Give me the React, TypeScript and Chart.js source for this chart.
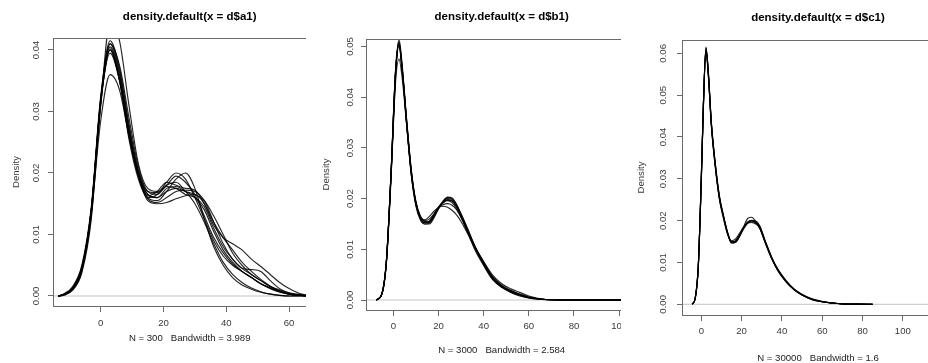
import React, { useEffect, useRef } from "react";
import { Chart, registerables } from "chart.js";

Chart.register(...registerables);

const FONT = "'Liberation Sans', Arial, Helvetica, sans-serif";
const CURVE_COLOR = "rgba(0,0,0,0.85)";
const ZERO_COLOR = "#c4c4c4";
const AXIS_COLOR = "#6a6a6a";
const TEXT_COLOR = "#3a3a3a";

// ---------------- Panel 1: d$a1 ----------------
const A_TITLE = "density.default(x = d$a1)";
const A_XLAB = "N = 300   Bandwidth = 3.989";
const A_XTICKS = [0, 20, 40, 60];
const A_YTICKS = [0, 0.01, 0.02, 0.03, 0.04];
const A_X = [-13.5, -12, -9, -6, -3, 0, 3, 6, 9, 12, 15, 18, 21, 24, 27, 30, 33, 36, 39, 42, 45, 48, 51, 54, 57, 60, 64, 70];
const A1 = [0, 0.0002, 0.0012, 0.0045, 0.014, 0.032, 0.0405, 0.036, 0.027, 0.020, 0.0165, 0.016, 0.0175, 0.0178, 0.017, 0.016, 0.014, 0.0105, 0.0075, 0.0055, 0.004, 0.003, 0.002, 0.0013, 0.0008, 0.0004, 0.00015, 0];
const A2 = [0, 0.0002, 0.0011, 0.0042, 0.0135, 0.0315, 0.040, 0.035, 0.0255, 0.019, 0.016, 0.0165, 0.0185, 0.020, 0.019, 0.016, 0.0125, 0.009, 0.0065, 0.005, 0.004, 0.003, 0.002, 0.0012, 0.0006, 0.0003, 0.0001, 0];
const A3 = [0, 0.0001, 0.0009, 0.0038, 0.0125, 0.031, 0.0445, 0.0415, 0.031, 0.0215, 0.0175, 0.017, 0.018, 0.0195, 0.0185, 0.0165, 0.013, 0.0095, 0.007, 0.0052, 0.004, 0.003, 0.002, 0.0013, 0.0007, 0.0003, 0.0001, 0];
const A4 = [0, 0.0002, 0.0013, 0.0048, 0.0135, 0.0285, 0.036, 0.0335, 0.026, 0.0195, 0.0155, 0.015, 0.0152, 0.0158, 0.0163, 0.0165, 0.015, 0.012, 0.0095, 0.0075, 0.0055, 0.004, 0.0027, 0.0016, 0.0008, 0.0003, 0.0001, 0];
const A5 = [0, 0.0003, 0.0015, 0.005, 0.0145, 0.0325, 0.041, 0.0365, 0.0275, 0.020, 0.016, 0.0155, 0.017, 0.019, 0.020, 0.0175, 0.0125, 0.008, 0.005, 0.003, 0.0018, 0.0011, 0.0006, 0.0003, 0.0001, 0, 0, 0];
const A6 = [0, 0.0002, 0.0012, 0.0044, 0.0138, 0.0315, 0.040, 0.035, 0.026, 0.0195, 0.0163, 0.017, 0.0185, 0.018, 0.0175, 0.0172, 0.015, 0.0115, 0.0095, 0.0085, 0.0075, 0.006, 0.0048, 0.0035, 0.0022, 0.0012, 0.0003, 0];
const A7 = [0, 0.0002, 0.0013, 0.0046, 0.014, 0.032, 0.0415, 0.037, 0.028, 0.0205, 0.017, 0.0168, 0.0178, 0.0175, 0.0165, 0.016, 0.0145, 0.011, 0.008, 0.006, 0.0045, 0.0043, 0.004, 0.0025, 0.0012, 0.0005, 0.0001, 0];
const A8 = [0, 0.0002, 0.0012, 0.0045, 0.014, 0.032, 0.0402, 0.0355, 0.0265, 0.0195, 0.0158, 0.0152, 0.016, 0.017, 0.0172, 0.017, 0.0155, 0.012, 0.0085, 0.006, 0.0045, 0.0035, 0.0025, 0.0015, 0.0008, 0.0003, 0.0001, 0];
const A9 = [0, 0.0001, 0.001, 0.004, 0.013, 0.031, 0.041, 0.0375, 0.029, 0.021, 0.017, 0.0165, 0.018, 0.0185, 0.017, 0.015, 0.012, 0.0085, 0.0055, 0.0035, 0.0022, 0.0013, 0.0007, 0.0003, 0.0001, 0, 0, 0];
const A10 = [0, 0.0002, 0.0012, 0.0045, 0.014, 0.0315, 0.0395, 0.035, 0.0265, 0.020, 0.0165, 0.016, 0.017, 0.0175, 0.017, 0.0165, 0.0155, 0.013, 0.010, 0.007, 0.005, 0.0035, 0.0025, 0.0016, 0.001, 0.0005, 0.0002, 0];

// ---------------- Panel 2: d$b1 ----------------
const B_TITLE = "density.default(x = d$b1)";
const B_XLAB = "N = 3000   Bandwidth = 2.584";
const B_XTICKS = [0, 20, 40, 60, 80, 100];
const B_YTICKS = [0, 0.01, 0.02, 0.03, 0.04, 0.05];
const B_X = [-7.5, -5, -3, -1, 1, 2.5, 4, 6, 8, 10, 12, 14, 16, 18, 20, 22, 24, 26, 28, 30, 33, 36, 40, 44, 48, 52, 56, 60, 65, 70, 80, 105];
const B1 = [0, 0.0013, 0.008, 0.025, 0.045, 0.0505, 0.045, 0.0345, 0.025, 0.019, 0.0162, 0.0152, 0.0155, 0.0168, 0.0183, 0.0193, 0.0198, 0.0195, 0.0183, 0.0165, 0.0135, 0.0105, 0.0072, 0.0043, 0.0027, 0.0017, 0.001, 0.0005, 0.0002, 0.00005, 0, 0];
const B2 = [0, 0.0012, 0.0075, 0.024, 0.044, 0.0515, 0.046, 0.035, 0.0255, 0.0195, 0.0165, 0.0155, 0.0153, 0.0165, 0.018, 0.0195, 0.0202, 0.020, 0.0188, 0.0168, 0.0135, 0.0103, 0.007, 0.0042, 0.0026, 0.0016, 0.0009, 0.0004, 0.00015, 0.00005, 0, 0];
const B3 = [0, 0.0014, 0.0082, 0.0245, 0.043, 0.0475, 0.0435, 0.034, 0.025, 0.0192, 0.0163, 0.0158, 0.0165, 0.0175, 0.0182, 0.0185, 0.0183, 0.0177, 0.0168, 0.0155, 0.013, 0.0105, 0.0075, 0.0046, 0.0029, 0.0019, 0.0011, 0.0006, 0.0002, 0.00005, 0, 0];
const B4 = [0, 0.0013, 0.008, 0.025, 0.0455, 0.051, 0.0455, 0.0345, 0.0245, 0.0185, 0.0158, 0.015, 0.0152, 0.0165, 0.018, 0.0193, 0.020, 0.0198, 0.0185, 0.0165, 0.0132, 0.010, 0.0068, 0.004, 0.0025, 0.0018, 0.0012, 0.0006, 0.0002, 0.00005, 0, 0];
const B5 = [0, 0.0013, 0.0078, 0.0245, 0.0445, 0.050, 0.045, 0.035, 0.0255, 0.0193, 0.0165, 0.0156, 0.016, 0.017, 0.0182, 0.0188, 0.019, 0.0187, 0.0178, 0.0163, 0.0136, 0.0107, 0.0074, 0.0045, 0.0028, 0.0018, 0.0011, 0.0005, 0.0002, 0.00005, 0, 0];
const B6 = [0, 0.0012, 0.0079, 0.025, 0.045, 0.0508, 0.0452, 0.0343, 0.0248, 0.0188, 0.016, 0.015, 0.015, 0.0162, 0.018, 0.0194, 0.0203, 0.0201, 0.0189, 0.017, 0.014, 0.0108, 0.0071, 0.0041, 0.0025, 0.0015, 0.0008, 0.0004, 0.00015, 0.00005, 0, 0];
const B7 = [0, 0.0013, 0.0081, 0.0252, 0.0452, 0.0503, 0.0448, 0.034, 0.0246, 0.0189, 0.0161, 0.0153, 0.0156, 0.0169, 0.0184, 0.0193, 0.0196, 0.0192, 0.018, 0.0163, 0.0134, 0.0106, 0.0076, 0.0049, 0.0032, 0.0022, 0.0015, 0.0008, 0.00025, 0.00005, 0, 0];
const B8 = [0, 0.0013, 0.008, 0.0248, 0.0448, 0.0506, 0.0453, 0.0348, 0.0252, 0.0191, 0.0163, 0.0154, 0.0154, 0.0166, 0.0181, 0.0191, 0.0197, 0.0196, 0.0186, 0.0169, 0.0138, 0.0106, 0.0071, 0.0042, 0.0026, 0.0016, 0.001, 0.0005, 0.0002, 0.00005, 0, 0];

// ---------------- Panel 3: d$c1 ----------------
const C_TITLE = "density.default(x = d$c1)";
const C_XLAB = "N = 30000   Bandwidth = 1.6";
const C_XTICKS = [0, 20, 40, 60, 80, 100, 120];
const C_YTICKS = [0, 0.01, 0.02, 0.03, 0.04, 0.05, 0.06];
const C_X = [-4.5, -3, -1.5, 0, 1, 2.3, 3.5, 5, 7, 9, 11, 13, 15, 17, 19, 21, 23, 25, 27, 29, 32, 35, 38, 42, 46, 50, 55, 60, 65, 70, 78, 85];
const C1 = [0, 0.0015, 0.009, 0.030, 0.047, 0.061, 0.055, 0.043, 0.033, 0.0255, 0.021, 0.017, 0.0148, 0.0152, 0.0165, 0.0182, 0.0195, 0.020, 0.0195, 0.0182, 0.0145, 0.011, 0.0082, 0.0055, 0.0036, 0.0023, 0.0012, 0.0006, 0.0003, 0.0001, 0.00003, 0];
const C2 = [0, 0.0014, 0.0088, 0.0295, 0.0465, 0.0615, 0.0555, 0.0435, 0.0335, 0.026, 0.0212, 0.0173, 0.015, 0.015, 0.0163, 0.0185, 0.0205, 0.0208, 0.0198, 0.0182, 0.0143, 0.0108, 0.008, 0.0054, 0.0035, 0.0022, 0.0011, 0.0006, 0.0003, 0.0001, 0.00003, 0];
const C3 = [0, 0.0015, 0.0092, 0.0305, 0.0475, 0.0605, 0.0545, 0.0425, 0.0325, 0.025, 0.0205, 0.0168, 0.0152, 0.0156, 0.017, 0.0185, 0.0194, 0.0196, 0.0192, 0.0182, 0.0147, 0.0112, 0.0084, 0.0057, 0.0037, 0.0024, 0.0013, 0.0007, 0.0003, 0.0001, 0.00003, 0];
const C4 = [0, 0.0015, 0.009, 0.030, 0.047, 0.0612, 0.0552, 0.0432, 0.033, 0.0253, 0.0208, 0.0169, 0.0146, 0.0149, 0.0164, 0.0183, 0.0197, 0.0201, 0.0197, 0.0186, 0.0146, 0.011, 0.0081, 0.0054, 0.0035, 0.0022, 0.0012, 0.0006, 0.0003, 0.0001, 0.00003, 0];
const C5 = [0, 0.0016, 0.0093, 0.0302, 0.0468, 0.0608, 0.0548, 0.0428, 0.0328, 0.0254, 0.021, 0.0171, 0.0149, 0.0151, 0.0166, 0.0184, 0.0196, 0.0199, 0.0195, 0.0184, 0.0145, 0.0109, 0.0083, 0.0056, 0.0036, 0.0023, 0.0012, 0.0006, 0.0003, 0.0001, 0.00003, 0];
const C6 = [0, 0.0014, 0.0089, 0.0298, 0.0472, 0.0613, 0.0553, 0.0431, 0.0332, 0.0256, 0.0211, 0.0172, 0.0147, 0.0148, 0.0162, 0.018, 0.0194, 0.02, 0.0199, 0.0188, 0.0148, 0.0111, 0.0081, 0.0055, 0.0035, 0.0022, 0.0011, 0.0006, 0.0003, 0.0001, 0.00002, 0];

type PanelSpec = {
  title: string;
  xlab: string;
  xs: number[];
  curves: number[][];
  xTicks: number[];
  yTicks: number[];
  xMin: number;
  xMax: number;
  yMin: number;
  yMax: number;
  left: number;
  clipW: number;
  canvasW: number;
  plotL: number;
  plotR: number;
  plotT: number;
  plotB: number;
  titleY: number;
  xlabY: number;
  ylabX: number;
  yTickPad: number;
  xTickPad: number;
};

const PANELS: PanelSpec[] = [
  {
    title: A_TITLE, xlab: A_XLAB, xs: A_X,
    curves: [A1, A2, A3, A4, A5, A6, A7, A8, A9, A10],
    xTicks: A_XTICKS, yTicks: A_YTICKS,
    xMin: -15.19, xMax: 71.88, yMin: -0.001626, yMax: 0.04195,
    left: 0, clipW: 306, canvasW: 330,
    plotL: 53, plotR: 326.4, plotT: 38, plotB: 306,
    titleY: 16.7, xlabY: 338.3, ylabX: 16.7, yTickPad: 2, xTickPad: 5.5,
  },
  {
    title: B_TITLE, xlab: B_XLAB, xs: B_X,
    curves: [B1, B2, B3, B4, B5, B6, B7, B8],
    xTicks: B_XTICKS, yTicks: B_YTICKS,
    xMin: -12.09, xMax: 108.08, yMin: -0.00197, yMax: 0.05148,
    left: 307, clipW: 314, canvasW: 335,
    plotL: 366, plotR: 637.4, plotT: 39, plotB: 310,
    titleY: 16.7, xlabY: 350, ylabX: 326.7, yTickPad: 1.6, xTickPad: 5,
  },
  {
    title: C_TITLE, xlab: C_XLAB, xs: C_X,
    curves: [C1, C2, C3, C4, C5, C6],
    xTicks: C_XTICKS, yTicks: C_YTICKS,
    xMin: -9.58, xMax: 125.4, yMin: -0.00256, yMax: 0.06318,
    left: 621, clipW: 307, canvasW: 337,
    plotL: 682, plotR: 954, plotT: 40, plotB: 315,
    titleY: 17.7, xlabY: 358.3, ylabX: 641.7, yTickPad: 4.3, xTickPad: 5,
  },
];

const H = 363;
const TICK_FONT = 9.6;
const TITLE_FONT = 11.5;

function DensityPanel({ p }: { p: PanelSpec }) {
  const ref = useRef<HTMLCanvasElement>(null);
  useEffect(() => {
    const canvas = ref.current;
    if (!canvas) return;
    const boxPlugin = {
      id: "rbox",
      afterDraw(chart: any) {
        const { ctx, chartArea: a } = chart;
        ctx.save();
        ctx.strokeStyle = AXIS_COLOR;
        ctx.lineWidth = 1;
        const l = Math.round(a.left) + 0.5;
        const t = Math.round(a.top) + 0.5;
        const r = Math.round(a.right) + 0.5;
        const b = Math.round(a.bottom) + 0.5;
        ctx.strokeRect(l, t, r - l, b - t);
        ctx.restore();
      },
    };
    const tickLH = TICK_FONT * 1.2;
    const titleLH = TITLE_FONT * 1.2;
    const datasets: any[] = [
      {
        data: [{ x: p.xMin, y: 0 }, { x: p.xMax, y: 0 }],
        borderColor: ZERO_COLOR,
        borderWidth: 1,
        pointRadius: 0,
        order: 1,
      },
      ...p.curves.map((c) => ({
        data: p.xs.map((x, i) => ({ x, y: c[i] })),
        borderColor: CURVE_COLOR,
        borderWidth: 1.15,
        pointRadius: 0,
        cubicInterpolationMode: "monotone",
        fill: false,
        order: 0,
      })),
    ];
    const chart = new Chart(canvas, {
      type: "line",
      data: { datasets },
      options: {
        responsive: false,
        animation: false,
        devicePixelRatio: 1,
        events: [],
        layout: {
          padding: { left: 0, top: 0, bottom: 0, right: p.canvasW - (p.plotR - p.left) },
        },
        elements: { point: { radius: 0 } },
        plugins: {
          legend: { display: false },
          tooltip: { enabled: false },
          title: {
            display: true,
            text: p.title,
            fullSize: false,
            color: "#000",
            font: { family: FONT, size: TITLE_FONT, weight: "bold", lineHeight: 1.2 },
            padding: { top: p.titleY - titleLH / 2, bottom: p.plotT - p.titleY - titleLH / 2 },
          },
        },
        scales: {
          x: {
            type: "linear",
            position: "bottom",
            min: p.xMin,
            max: p.xMax,
            afterBuildTicks: (s: any) => {
              s.ticks = p.xTicks.map((v) => ({ value: v }));
            },
            afterFit: (s: any) => {
              s.height = H - p.plotB;
            },
            grid: { drawOnChartArea: false, drawTicks: true, tickLength: 6, color: AXIS_COLOR, lineWidth: 1 },
            border: { display: false },
            ticks: {
              autoSkip: false,
              maxRotation: 0,
              minRotation: 0,
              padding: p.xTickPad,
              color: TEXT_COLOR,
              font: { family: FONT, size: TICK_FONT },
              callback: (v: any) => String(v),
            },
            title: {
              display: true,
              text: p.xlab,
              color: "#222",
              font: { family: FONT, size: TICK_FONT, lineHeight: 1.2 },
              padding: { top: 0, bottom: H - p.xlabY - tickLH / 2 },
            },
          },
          y: {
            type: "linear",
            position: "left",
            min: p.yMin,
            max: p.yMax,
            afterBuildTicks: (s: any) => {
              s.ticks = p.yTicks.map((v) => ({ value: v }));
            },
            afterFit: (s: any) => {
              s.width = p.plotL - p.left;
            },
            grid: { drawOnChartArea: false, drawTicks: true, tickLength: 5, color: AXIS_COLOR, lineWidth: 1 },
            border: { display: false },
            ticks: {
              autoSkip: false,
              minRotation: 90,
              maxRotation: 90,
              crossAlign: "center",
              padding: p.yTickPad,
              color: TEXT_COLOR,
              font: { family: FONT, size: TICK_FONT },
              callback: (v: any) => Number(v).toFixed(2),
            },
            title: {
              display: true,
              text: "Density",
              color: TEXT_COLOR,
              font: { family: FONT, size: TICK_FONT, lineHeight: 1.2 },
              padding: { top: p.ylabX - p.left - tickLH / 2, bottom: 0 },
            },
          },
        },
      } as any,
      plugins: [boxPlugin],
    });
    return () => chart.destroy();
  }, [p]);
  return (
    <div
      style={{
        position: "absolute",
        left: p.left,
        top: 0,
        width: p.clipW,
        height: H,
        overflow: "hidden",
      }}
    >
      <canvas
        ref={ref}
        width={p.canvasW}
        height={H}
        style={{ display: "block", width: p.canvasW, height: H }}
      />
    </div>
  );
}

export default function App() {
  return (
    <div
      style={{
        position: "fixed",
        left: 0,
        top: 0,
        width: 928,
        height: H,
        background: "#fff",
        overflow: "hidden",
      }}
    >
      {PANELS.map((p, i) => (
        <DensityPanel key={i} p={p} />
      ))}
    </div>
  );
}
